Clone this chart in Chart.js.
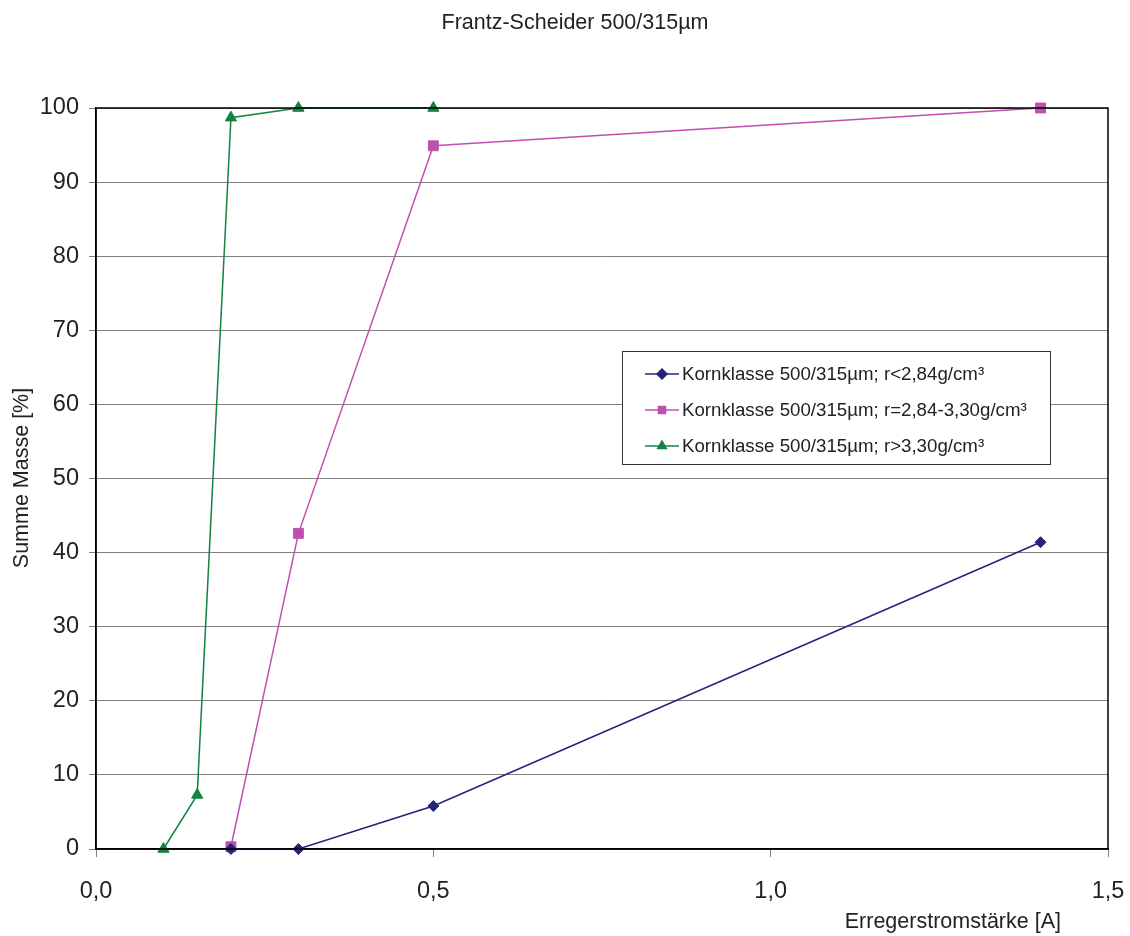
<!DOCTYPE html>
<html><head><meta charset="utf-8">
<script src="https://cdn.jsdelivr.net/npm/chart.js@4/dist/chart.umd.min.js"></script>
<style>html,body{margin:0;padding:0;background:#fff}#wrap{width:1130px;height:936px}</style>
</head><body><div id="wrap"><canvas id="c" width="1130" height="936"></canvas></div>
<script>
const chartTitle = 'Frantz-Scheider 500/315µm';
const xTitle = 'Erregerstromstärke [A]';
const yTitle = 'Summe Masse [%]';
const seriesNames = [
  'Kornklasse 500/315µm; r<2,84g/cm³',
  'Kornklasse 500/315µm; r=2,84-3,30g/cm³',
  'Kornklasse 500/315µm; r>3,30g/cm³'
];
const blueX = [0.2, 0.3, 0.5, 1.4];
const blueY = [0, 0, 5.8, 41.4];
const pinkX = [0.2, 0.3, 0.5, 1.4];
const pinkY = [0.3, 42.6, 94.9, 100];
const greenX = [0.1, 0.15, 0.2, 0.3, 0.5];
const greenY = [0, 7.3, 98.7, 100, 100];
const xTicks = [0, 0.5, 1.0, 1.5];
const yTicks = [0,10,20,30,40,50,60,70,80,90,100];

const pts = (xs, ys) => xs.map((x,i)=>({x, y: ys[i]}));
const colors = ['#24237a', '#c050b0', '#138344'];
const styles = ['rectRot', 'rect', 'triangle'];
const radii = [5.5, 7, 6.5];

const FONT = '"Liberation Sans", Arial, sans-serif';

const customText = {
  id: 'customText',
  afterDraw(chart) {
    const ctx = chart.ctx, a = chart.chartArea;
    ctx.save();
    ctx.strokeStyle = '#000'; ctx.lineWidth = 1.5;
    ctx.strokeRect(a.left, a.top, a.right - a.left, a.bottom - a.top);
    ctx.fillStyle = '#222';
    ctx.textBaseline = 'middle';
    ctx.font = '21.5px ' + FONT;
    ctx.textAlign = 'center';
    ctx.fillText(chartTitle, 575, 23);
    ctx.textAlign = 'right';
    ctx.fillText(xTitle, 1061, 922);
    ctx.save();
    ctx.translate(22, 478); ctx.rotate(-Math.PI/2);
    ctx.textAlign = 'center';
    ctx.fillText(yTitle, 0, 0);
    ctx.restore();
    // legend
    const lx = 622, ly = 351, lw = 428, lh = 113;
    ctx.fillStyle = '#fff'; ctx.fillRect(lx, ly, lw, lh);
    ctx.strokeStyle = '#333'; ctx.lineWidth = 1; ctx.strokeRect(lx+0.5, ly+0.5, lw, lh);
    chart.data.datasets.forEach((ds, i) => {
      const y = 374 + i*36;
      ctx.strokeStyle = ds.borderColor; ctx.lineWidth = 1.5;
      ctx.beginPath(); ctx.moveTo(645, y); ctx.lineTo(679, y); ctx.stroke();
      Chart.helpers.drawPoint(ctx, {pointStyle: ds.pointStyle, radius: 5, borderWidth: 1}, 662, y);
      ctx.fillStyle = ds.borderColor;
      ctx.fill();
      ctx.fillStyle = '#222';
      ctx.font = '18.7px ' + FONT; ctx.textAlign = 'left';
      ctx.fillText(ds.label, 682, y + 1);
    });
    ctx.restore();
  }
};

new Chart(document.getElementById('c'), {
  type: 'line',
  data: {
    datasets: [
      {label: seriesNames[0], data: pts(blueX, blueY)},
      {label: seriesNames[1], data: pts(pinkX, pinkY)},
      {label: seriesNames[2], data: pts(greenX, greenY)}
    ].map((d,i)=>Object.assign(d, {
      borderColor: colors[i], backgroundColor: colors[i],
      pointStyle: styles[i], pointRadius: radii[i], pointBorderWidth: 1,
      borderWidth: 1.5, tension: 0, fill: false, clip: false
    }))
  },
  options: {
    responsive: false, animation: false,
    devicePixelRatio: 1,
    layout: {padding: {top: 108, right: 22, left: 0, bottom: 0}},
    plugins: {legend: {display: false}, title: {display: false}, tooltip: {enabled: false}},
    scales: {
      x: {
        type: 'linear', min: 0, max: 1.5,
        afterBuildTicks: s => { s.ticks = xTicks.map(v=>({value: v})); },
        afterFit: s => { s.height = 87; s.paddingLeft = 0; s.paddingRight = 0; },
        grid: {drawOnChartArea: false, drawTicks: true, tickLength: 8, color: '#808080'},
        border: {color: '#000', width: 1.5},
        ticks: {padding: 20, color: '#222', font: {family: FONT, size: 23.5},
          callback: v => v.toFixed(1).replace('.', ',')}
      },
      y: {
        min: 0, max: 100,
        afterBuildTicks: s => { s.ticks = yTicks.map(v=>({value: v})); },
        afterFit: s => { s.width = 96; s.paddingTop = 0; s.paddingBottom = 0; },
        grid: {color: '#808080', lineWidth: 1, tickLength: 7},
        border: {color: '#000', width: 1.5},
        ticks: {padding: 10, color: '#222', font: {family: FONT, size: 23.5}}
      }
    }
  },
  plugins: [customText]
});
</script></body></html>
